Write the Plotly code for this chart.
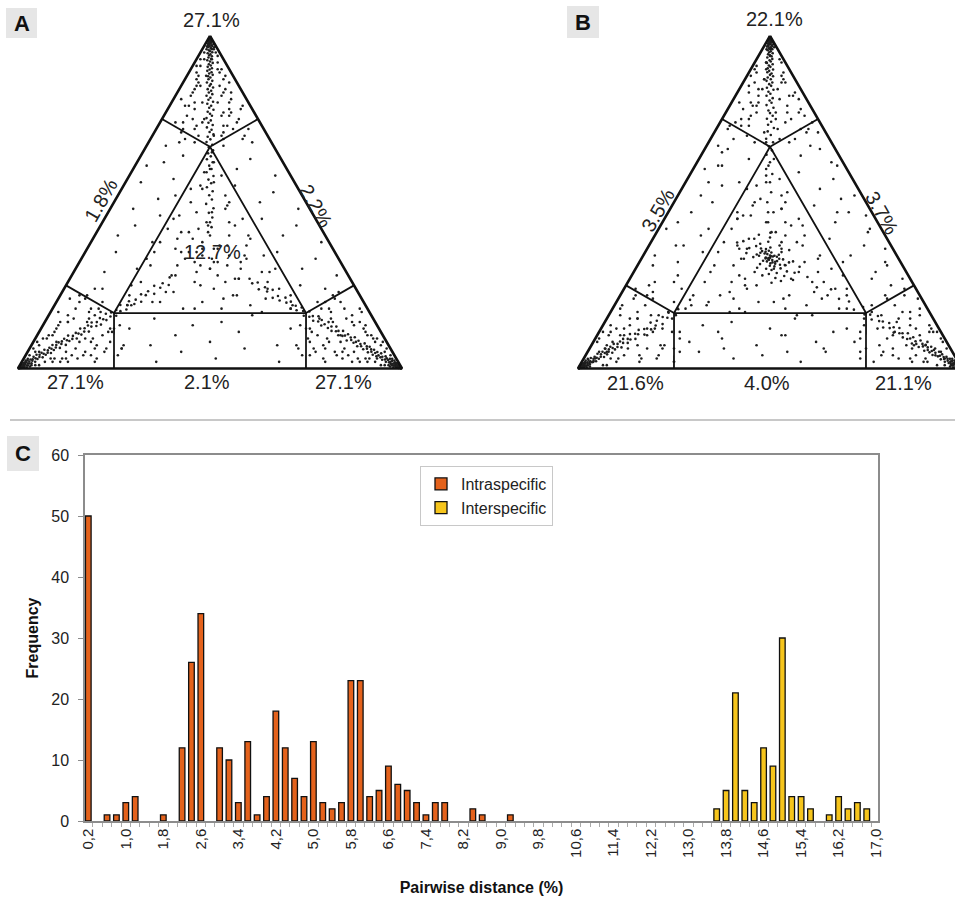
import numpy as np
import plotly.graph_objects as go

W, H = 955, 900
SQ3 = np.sqrt(3) / 2
FONT = "Liberation Sans, Arial, Helvetica, sans-serif"

# ---------------- histogram data (panel C) ----------------
bin_values = [0.2, 0.4, 0.6, 0.8, 1.0, 1.2, 1.4, 1.6, 1.8, 2.0,
              2.2, 2.4, 2.6, 2.8, 3.0, 3.2, 3.4, 3.6, 3.8, 4.0,
              4.2, 4.4, 4.6, 4.8, 5.0, 5.2, 5.4, 5.6, 5.8, 6.0,
              6.2, 6.4, 6.6, 6.8, 7.0, 7.2, 7.4, 7.6, 7.8, 8.0,
              8.2, 8.4, 8.6, 8.8, 9.0, 9.2, 9.4, 9.6, 9.8, 10.0,
              10.2, 10.4, 10.6, 10.8, 11.0, 11.2, 11.4, 11.6, 11.8, 12.0,
              12.2, 12.4, 12.6, 12.8, 13.0, 13.2, 13.4, 13.6, 13.8, 14.0,
              14.2, 14.4, 14.6, 14.8, 15.0, 15.2, 15.4, 15.6, 15.8, 16.0,
              16.2, 16.4, 16.6, 16.8, 17.0]
intra_counts = [50, 0, 1, 1, 3, 4, 0, 0, 1, 0,
                12, 26, 34, 0, 12, 10, 3, 13, 1, 4,
                18, 12, 7, 4, 13, 3, 2, 3, 23, 23,
                4, 5, 9, 6, 5, 3, 1, 3, 3, 0,
                0, 2, 1, 0, 0, 1, 0, 0, 0, 0,
                0, 0, 0, 0, 0, 0, 0, 0, 0, 0,
                0, 0, 0, 0, 0, 0, 0, 0, 0, 0,
                0, 0, 0, 0, 0, 0, 0, 0, 0, 0,
                0, 0, 0, 0, 0]
inter_counts = [0, 0, 0, 0, 0, 0, 0, 0, 0, 0,
                0, 0, 0, 0, 0, 0, 0, 0, 0, 0,
                0, 0, 0, 0, 0, 0, 0, 0, 0, 0,
                0, 0, 0, 0, 0, 0, 0, 0, 0, 0,
                0, 0, 0, 0, 0, 0, 0, 0, 0, 0,
                0, 0, 0, 0, 0, 0, 0, 0, 0, 0,
                0, 0, 0, 0, 0, 0, 0, 2, 5, 21,
                5, 3, 12, 9, 30, 4, 4, 2, 0, 1,
                4, 2, 3, 2, 0]
tick_values = [0.2, 1.0, 1.8, 2.6, 3.4, 4.2, 5.0, 5.8, 6.6, 7.4, 8.2,
               9.0, 9.8, 10.6, 11.4, 12.2, 13.0, 13.8, 14.6, 15.4, 16.2, 17.0]
tick_labels = ["0,2", "1,0", "1,8", "2,6", "3,4", "4,2", "5,0", "5,8", "6,6", "7,4", "8,2",
               "9,0", "9,8", "10,6", "11,4", "12,2", "13,0", "13,8", "14,6", "15,4", "16,2", "17,0"]
y_ticks = [0, 10, 20, 30, 40, 50, 60]

# ---------------- likelihood-mapping labels (panels A, B) ----------------
A_corner_pct = ["27.1%", "27.1%", "27.1%"]   # top, bottom-left, bottom-right
A_side_pct = ["1.8%", "2.2%", "2.1%"]        # left, right, bottom
A_center_pct = "12.7%"
B_corner_pct = ["22.1%", "21.6%", "21.1%"]
B_side_pct = ["3.5%", "3.7%", "4.0%"]

# ---------------- quartet points ----------------
# scattered points as (a, b) in percent; a = top corner, b = bottom-left, c = 100 - a - b
A_background = [
    (3, 5), (5, 13), (4, 22), (2, 31), (6, 38), (3, 47), (5, 55), (2, 63), (6, 70), (4, 79), (3, 86), (5, 92),
    (8, 3), (10, 11), (9, 20), (7, 29), (11, 37), (8, 46), (10, 54), (7, 62), (11, 70), (9, 78), (8, 86),
    (13, 6), (15, 14), (12, 23), (16, 31), (14, 40), (13, 48), (15, 57), (12, 65), (16, 72), (14, 80),
    (18, 2), (20, 10), (19, 19), (17, 28), (21, 36), (18, 45), (20, 53), (19, 61), (17, 70), (21, 76),
    (23, 5), (25, 14), (24, 23), (22, 32), (26, 41), (23, 50), (25, 58), (24, 66), (22, 73),
    (28, 3), (30, 11), (29, 20), (27, 29), (31, 37), (28, 46), (30, 54), (29, 63),
    (33, 6), (35, 15), (34, 24), (32, 33), (36, 41), (33, 50), (35, 57),
    (38, 2), (40, 11), (39, 20), (37, 29), (41, 37), (38, 46), (40, 54),
    (43, 6), (45, 14), (44, 23), (42, 32), (46, 40), (43, 48),
    (48, 3), (50, 12), (49, 21), (47, 30), (51, 38), (48, 46),
    (53, 7), (55, 16), (54, 25), (52, 33), (56, 40),
    (58, 4), (60, 13), (59, 22), (57, 31), (61, 36),
    (63, 8), (65, 17), (64, 25), (62, 31),
    (68, 5), (70, 14), (69, 22), (67, 28),
    (73, 9), (75, 17), (74, 22),
    (78, 6), (80, 12), (79, 17),
    (83, 5), (85, 10), (88, 7), (93, 3)]
A_inner = [
    (60, 20), (58, 18), (55, 25), (52, 20), (50, 30), (48, 22), (46, 35), (45, 19), (44, 28), (42, 40),
    (40, 20), (40, 25), (38, 44), (37, 22), (36, 30), (35, 47), (34, 19), (33, 40), (32, 26), (31, 50),
    (30, 35), (29, 22), (28, 45), (27, 30), (26, 55), (25, 40), (24, 20), (23, 48), (22, 33), (22, 60),
    (21, 25), (20, 42), (20, 55), (19, 30), (19, 62), (18, 20), (18, 48), (18, 38), (22, 18), (26, 22),
    (30, 18), (35, 38), (39, 35), (43, 22), (47, 26), (50, 20), (54, 28), (56, 21), (62, 18), (45, 37),
    (33, 33), (36, 31), (30, 35), (35, 36), (31, 30), (38, 33), (28, 34), (34, 28), (32, 38), (37, 27),
    (29, 39), (40, 30), (26, 33), (35, 40), (41, 35), (30, 27), (27, 29), (39, 39), (33, 24), (24, 37),
    (43, 29), (31, 43), (36, 34), (34, 35), (32, 32)]
A_kites = [
    (99, 0.5), (98.5, 0.7), (99.2, 0.4), (98, 1.1), (98.8, 0.5), (97.5, 1.4), (99.5, 0.2), (98.2, 0.8),
    (0.5, 99), (0.7, 98.5), (0.4, 99.2), (1.1, 98), (0.6, 98.8), (1.4, 97.5), (0.2, 99.5), (0.9, 98.3),
    (0.5, 0.5), (0.7, 0.8), (0.4, 0.4), (1.1, 0.9), (0.5, 0.7), (1.4, 1.1), (0.2, 0.3), (0.8, 0.9),
    (95, 1), (93, 5), (90, 2), (91, 7), (88, 9), (87, 3), (85, 11), (84, 4), (83, 13), (82, 6), (80, 14),
    (80, 5), (79, 16), (78, 3), (77, 8), (76, 18), (75, 5), (74, 20), (73, 10), (72, 4), (71, 22), (70, 12),
    (69, 7), (68, 24), (72, 18), (76, 7), (86, 10), (89, 3), (81, 17), (74, 15),
    (96, 1), (95, 4), (94, 1), (93, 6), (92, 2), (91, 8), (90, 3), (89, 9), (88, 2), (87, 10), (86, 2),
    (85, 5), (84, 12), (83, 3), (82, 14), (81, 4), (80, 8), (79, 2), (78, 15), (77, 6), (76, 9), (75, 14),
    (74, 6), (73, 17), (72, 8), (71, 11), (70, 18), (69, 12), (70, 6), (72, 21), (68, 20), (67, 13),
    (1, 95), (5, 93), (2, 90), (7, 91), (9, 88), (3, 87), (11, 85), (4, 84), (13, 83), (6, 82), (14, 80),
    (5, 80), (16, 79), (3, 78), (8, 77), (18, 76), (5, 75), (20, 74), (10, 73), (4, 72), (22, 71), (12, 70),
    (7, 69), (24, 68), (18, 72), (7, 76), (10, 86), (3, 89), (17, 81), (15, 74),
    (1, 96), (4, 95), (1, 94), (6, 93), (2, 92), (8, 91), (3, 90), (9, 89), (2, 88), (10, 87), (2, 86),
    (5, 85), (12, 84), (3, 83), (14, 82), (4, 81), (8, 80), (2, 79), (15, 78), (6, 77), (9, 76), (14, 75),
    (6, 74), (17, 73), (8, 72), (11, 71), (18, 70), (12, 69), (6, 70), (21, 72), (20, 68), (13, 67),
    (1, 4), (5, 2), (2, 8), (7, 2), (9, 3), (3, 10), (11, 4), (4, 12), (13, 3), (6, 12), (14, 6), (5, 15),
    (16, 5), (3, 19), (8, 15), (18, 6), (5, 20), (20, 6), (10, 17), (4, 24), (22, 7), (12, 18), (7, 24),
    (24, 8), (18, 10), (7, 17), (10, 4), (3, 8), (17, 2), (15, 11),
    (1, 3), (4, 1), (1, 5), (6, 1), (2, 6), (8, 1), (3, 7), (9, 2), (2, 10), (10, 3), (2, 12), (5, 10),
    (12, 4), (3, 14), (14, 4), (4, 15), (8, 12), (2, 19), (15, 7), (6, 17), (9, 15), (14, 11), (6, 20),
    (17, 10), (8, 20), (11, 18), (18, 12), (12, 19), (6, 24), (21, 7), (20, 12), (13, 20)]
# dense clumps right at the three corners (both panels)
corner_clumps = [
    (99.7, 0.1), (99.4, 0.3), (99.1, 0.6), (98.9, 0.2), (98.6, 1.0), (98.3, 0.4), (98.0, 0.7), (97.7, 1.6),
    (97.6, 0.3), (97.2, 1.9), (97.0, 0.9), (96.8, 2.4), (96.6, 0.6), (96.3, 1.5), (96.0, 2.9),
    (0.1, 99.7), (0.3, 99.4), (0.6, 99.1), (0.2, 98.9), (1.0, 98.6), (0.4, 98.3), (0.7, 98.0), (1.6, 97.7),
    (0.3, 97.6), (1.9, 97.2), (0.9, 97.0), (2.4, 96.8), (0.6, 96.6), (1.5, 96.3), (2.9, 96.0),
    (0.1, 0.2), (0.3, 0.3), (0.6, 0.3), (0.2, 0.9), (1.0, 0.4), (0.4, 1.3), (0.7, 1.3), (1.6, 0.7),
    (0.3, 2.1), (1.9, 0.9), (0.9, 2.1), (2.4, 0.8), (0.6, 2.8), (1.5, 2.2), (2.9, 1.1)]

# arm points as (t, d): t = share of the arm's own corner, d = offset across the arm (percent)
A_top_arm = [
    (99.6, 0.0), (99.3, 0.2), (99.0, -0.2), (98.7, 0.1), (98.4, -0.3), (98.1, 0.3), (97.8, -0.1), (97.5, 0.4),
    (97.2, -0.4), (96.9, 0.1), (96.6, 0.5), (96.3, -0.2), (96.0, -0.5), (95.7, 0.3), (95.4, 0.0), (95.1, -0.6),
    (94.8, 0.6), (94.5, -0.1), (94.2, 0.2), (93.9, -0.5), (93.5, 0.4), (93.1, -0.3), (92.7, 0.7), (92.3, 0.0),
    (91.9, -0.7), (91.5, 0.3), (91.1, -0.2), (90.7, 0.6), (90.3, -0.5), (89.9, 0.1), (89.5, 0.7), (89.1, -0.4),
    (88.7, 0.2), (88.3, -0.7), (87.9, 0.5), (87.5, -0.1), (87.0, 0.4), (86.5, -0.6), (86.0, 0.8), (85.5, -0.2),
    (85.0, 0.1), (84.5, -0.8), (84.0, 0.6), (83.5, -0.3), (83.0, 0.3), (82.5, -0.6), (82.0, 0.9), (81.4, -0.1),
    (80.8, 0.4), (80.2, -0.8), (79.6, 0.7), (79.0, -0.3), (78.4, 0.2), (77.8, -0.9), (77.2, 0.6), (76.6, 0.0),
    (76.0, -0.5), (75.3, 0.9), (74.6, -0.2), (73.9, 0.4), (73.2, -0.7), (72.5, 0.8), (71.8, -0.4), (71.1, 0.1),
    (70.4, -0.9), (69.7, 0.6), (68.9, -0.1), (68.1, 0.9), (67.3, -0.6), (66.5, 0.3), (65.6, -0.8), (64.7, 0.5),
    (63.8, -0.2), (62.9, 0.8), (62.0, -0.7), (61.0, 0.2), (60.0, -0.4), (59.0, 0.9), (57.9, -0.9), (56.8, 0.4),
    (55.7, -0.3), (54.5, 0.8), (53.3, -0.7), (52.1, 0.2), (50.8, -0.5), (49.5, 1.0), (48.2, -0.9), (46.8, 0.3),
    (45.4, -0.6), (44.0, 0.9), (42.5, -0.4), (41.0, 0.5)]
A_left_arm = [
    (99.6, 0.1), (99.3, -0.2), (99.0, 0.3), (98.7, -0.1), (98.4, 0.2), (98.1, -0.4), (97.8, 0.4), (97.5, 0.0),
    (97.2, -0.5), (96.9, 0.3), (96.6, -0.2), (96.3, 0.6), (96.0, 0.1), (95.7, -0.6), (95.4, 0.4), (95.1, -0.1),
    (94.8, 0.2), (94.5, -0.7), (94.2, 0.6), (93.9, 0.0), (93.5, -0.4), (93.1, 0.7), (92.7, -0.2), (92.3, 0.3),
    (91.9, -0.7), (91.5, 0.5), (91.1, 0.0), (90.7, -0.5), (90.3, 0.8), (89.9, -0.3), (89.5, 0.2), (89.1, -0.8),
    (88.7, 0.6), (88.3, 0.1), (87.9, -0.5), (87.5, 0.8), (87.0, -0.2), (86.5, 0.3), (86.0, -0.8), (85.5, 0.6),
    (85.0, -0.1), (84.5, 0.4), (84.0, -0.9), (83.5, 0.7), (83.0, 0.0), (82.5, -0.5), (82.0, 0.9), (81.4, -0.4),
    (80.8, 0.2), (80.2, -0.9), (79.6, 0.5), (79.0, 0.0), (78.4, -0.6), (77.8, 0.9), (77.2, -0.3), (76.6, 0.4),
    (76.0, -0.9), (75.3, 0.6), (74.6, -0.1), (73.9, 0.8), (73.2, -0.6), (72.5, 0.2), (71.8, -0.9), (71.1, 0.7),
    (70.4, 0.0), (69.7, -0.6), (68.9, 0.9), (68.1, -0.3), (67.3, 0.5), (66.5, -0.9), (65.6, 0.4), (64.7, -0.4),
    (63.8, 1.0), (62.9, -0.8), (62.0, 0.1), (61.0, 0.7), (60.0, -0.6), (59.0, 0.2), (57.9, -1.0), (56.8, 0.7),
    (55.7, -0.1), (54.5, 0.5), (53.3, -0.9), (52.1, 0.9), (50.8, -0.3), (49.5, 0.4), (48.2, -0.8), (46.8, 0.8)]
A_right_arm = [
    (99.6, -0.1), (99.3, 0.1), (99.0, -0.3), (98.7, 0.3), (98.4, 0.0), (98.1, -0.2), (97.8, 0.5), (97.5, -0.4),
    (97.2, 0.2), (96.9, -0.1), (96.6, -0.5), (96.3, 0.4), (96.0, 0.0), (95.7, -0.3), (95.4, 0.6), (95.1, 0.1),
    (94.8, -0.6), (94.5, 0.3), (94.2, -0.2), (93.9, 0.6), (93.5, -0.6), (93.1, 0.1), (92.7, -0.3), (92.3, 0.7),
    (91.9, -0.1), (91.5, -0.6), (91.1, 0.5), (90.7, 0.0), (90.3, -0.7), (89.9, 0.6), (89.5, -0.2), (89.1, 0.3),
    (88.7, -0.8), (88.3, 0.7), (87.9, -0.1), (87.5, 0.4), (87.0, -0.7), (86.5, 0.8), (86.0, -0.3), (85.5, 0.1),
    (85.0, -0.8), (84.5, 0.6), (84.0, 0.0), (83.5, -0.5), (83.0, 0.9), (82.5, -0.2), (82.0, 0.3), (81.4, -0.9),
    (80.8, 0.7), (80.2, 0.0), (79.6, -0.4), (79.0, 0.8), (78.4, -0.8), (77.8, 0.2), (77.2, -0.2), (76.6, 0.9),
    (76.0, -0.7), (75.3, 0.3), (74.6, -0.5), (73.9, 0.9), (73.2, -0.1), (72.5, -0.8), (71.8, 0.5), (71.1, -0.3),
    (70.4, 0.9), (69.7, -0.8), (68.9, 0.2), (68.1, -0.4), (67.3, 0.8), (66.5, -0.9), (65.6, 0.1), (64.7, 0.7),
    (63.8, -0.6), (62.9, 0.3), (62.0, -1.0), (61.0, 0.6), (60.0, -0.2), (59.0, 0.8), (57.9, -0.6), (56.8, 0.2),
    (55.7, -0.9), (54.5, 0.9), (53.3, -0.2), (52.1, 0.5), (50.8, -0.8), (49.5, 0.6), (48.2, -0.3), (46.8, 0.4)]

B_background = [
    (2, 8), (4, 16), (3, 25), (5, 33), (2, 41), (4, 50), (3, 58), (5, 66), (2, 74), (4, 82), (3, 90), (2, 95),
    (7, 6), (9, 15), (8, 24), (6, 33), (10, 42), (7, 50), (9, 58), (8, 67), (6, 75), (10, 83), (7, 89),
    (12, 2), (14, 10), (13, 19), (11, 28), (15, 36), (12, 44), (14, 53), (13, 61), (11, 70), (15, 77), (12, 84),
    (17, 5), (19, 14), (18, 23), (16, 31), (20, 39), (17, 48), (19, 57), (18, 65), (16, 73), (19, 79),
    (22, 9), (24, 18), (23, 27), (21, 36), (25, 44), (22, 52), (24, 61), (23, 69), (21, 75),
    (27, 2), (29, 8), (28, 17), (26, 26), (30, 34), (27, 43), (29, 51), (28, 60), (26, 67),
    (32, 4), (34, 12), (33, 21), (31, 44), (35, 50), (32, 58), (34, 63),
    (37, 7), (39, 15), (38, 24), (36, 40), (40, 48), (37, 56),
    (42, 3), (44, 11), (43, 20), (41, 28), (45, 36), (42, 45), (44, 52),
    (47, 6), (49, 14), (48, 23), (46, 32), (50, 40), (47, 47),
    (52, 2), (54, 10), (53, 19), (51, 27), (55, 35), (52, 42),
    (57, 5), (59, 13), (58, 22), (56, 30), (60, 37),
    (62, 3), (64, 10), (63, 24), (61, 32), (65, 30),
    (67, 6), (69, 13), (68, 20), (66, 28),
    (72, 4), (74, 9), (73, 21), (75, 18),
    (77, 7), (79, 14), (78, 18),
    (82, 4), (84, 11), (83, 14), (87, 3), (89, 9), (92, 5),
    (6, 1), (7, 9), (5, 18), (8, 34), (5, 43), (6, 59), (7, 74), (5, 90),
    (11, 2), (12, 24), (10, 41), (11, 58), (12, 74), (10, 87),
    (16, 3), (15, 18), (16, 35), (17, 52), (15, 68), (16, 81),
    (21, 1), (22, 24), (20, 65), (22, 71), (27, 10), (26, 62), (31, 4), (32, 15), (31, 65),
    (36, 2), (37, 54), (41, 4), (42, 56), (46, 2), (47, 9), (51, 6), (56, 38), (61, 2), (61, 33),
    (66, 4), (67, 30), (71, 2), (72, 25), (76, 3), (75, 20), (81, 2), (80, 15), (86, 3), (87, 8)]
B_inner = [
    (60, 21), (57, 19), (55, 26), (52, 21), (50, 29), (48, 23), (46, 34), (45, 20), (44, 29), (42, 39),
    (40, 21), (40, 26), (38, 43), (37, 23), (36, 29), (35, 46), (34, 20), (33, 41), (32, 25), (31, 49),
    (30, 36), (29, 23), (28, 44), (27, 31), (26, 54), (25, 41), (24, 21), (23, 49), (22, 34), (22, 59),
    (21, 26), (20, 43), (20, 56), (19, 31), (19, 61), (18, 21), (18, 49), (18, 37), (22, 19), (26, 23),
    (30, 19), (36, 38), (39, 36), (43, 23), (47, 27), (50, 21), (54, 29), (56, 22), (62, 19), (45, 36),
    (28, 38), (38, 28), (24, 44), (44, 24), (26, 47), (47, 35), (21, 49), (49, 30), (29, 28), (37, 40)]
B_kites = [
    (99, 0.5), (98.5, 0.7), (99.2, 0.4), (98, 1.1), (98.8, 0.5), (97.5, 1.4), (99.5, 0.2), (98.2, 0.8),
    (0.5, 99), (0.7, 98.5), (0.4, 99.2), (1.1, 98), (0.6, 98.8), (1.4, 97.5), (0.2, 99.5), (0.9, 98.3),
    (0.5, 0.5), (0.7, 0.8), (0.4, 0.4), (1.1, 0.9), (0.5, 0.7), (1.4, 1.1), (0.2, 0.3), (0.8, 0.9),
    (94, 3), (92, 1), (90, 6), (89, 2), (87, 8), (86, 4), (84, 10), (83, 2), (82, 12), (81, 7), (79, 15),
    (78, 3), (77, 10), (76, 17), (75, 7), (74, 2), (73, 19), (72, 12), (71, 5), (70, 21), (69, 9), (68, 17),
    (73, 24), (85, 13), (80, 18), (77, 4), (88, 11), (91, 8),
    (96, 2), (93, 1), (92, 5), (90, 9), (88, 3), (86, 11), (84, 6), (82, 3), (80, 13), (79, 6), (77, 15),
    (75, 11), (74, 22), (72, 6), (71, 16), (69, 25), (68, 11),
    (3, 94), (1, 92), (6, 90), (2, 89), (8, 87), (4, 86), (10, 84), (2, 83), (12, 82), (7, 81), (15, 79),
    (3, 78), (10, 77), (17, 76), (7, 75), (2, 74), (19, 73), (12, 72), (5, 71), (21, 70), (9, 69), (17, 68),
    (24, 73), (13, 85), (18, 80), (4, 77), (11, 88), (8, 91),
    (2, 96), (1, 93), (5, 92), (9, 90), (3, 88), (11, 86), (6, 84), (3, 82), (13, 80), (6, 79), (15, 77),
    (11, 75), (22, 74), (6, 72), (16, 71), (25, 69), (11, 68),
    (3, 3), (1, 6), (6, 4), (2, 9), (8, 5), (4, 10), (10, 6), (2, 12), (12, 6), (7, 11), (15, 6), (3, 15),
    (10, 13), (17, 7), (7, 18), (2, 22), (19, 8), (12, 16), (5, 24), (21, 9), (9, 22), (17, 15), (24, 3),
    (13, 2), (18, 2), (4, 19), (11, 1), (8, 1),
    (2, 2), (1, 4), (5, 3), (9, 1), (3, 8), (11, 3), (6, 10), (3, 12), (13, 7), (6, 15), (15, 9), (11, 12),
    (22, 4), (6, 22), (16, 13), (25, 6), (11, 21)]
B_center_star = [
    (33.3, 33.3), (33.8, 32.9), (32.7, 33.9), (34.4, 33.5), (32.1, 32.6), (33.1, 34.6), (34.9, 32.2),
    (31.6, 34.1), (33.6, 31.4), (35.3, 34.4), (31.2, 31.8), (32.4, 35.6), (35.9, 33.1), (30.7, 33.5),
    (34.2, 30.6), (33.9, 35.9), (36.4, 31.7), (30.1, 32.2), (32.8, 30.2), (36.8, 35.2), (29.6, 34.8),
    (35.0, 29.5), (31.4, 36.9), (37.5, 33.8), (29.2, 31.0), (33.5, 37.6), (38.1, 31.4), (28.7, 33.9),
    (31.9, 29.1), (36.2, 37.3), (28.4, 36.1), (37.0, 29.0), (30.3, 38.2), (39.0, 34.6), (27.8, 32.4),
    (34.7, 38.8), (39.4, 30.3), (27.2, 35.0), (32.2, 27.9), (38.3, 37.8), (26.6, 30.7), (35.6, 27.2),
    (29.0, 39.5), (40.2, 32.8), (26.3, 34.0), (33.0, 40.3), (40.8, 29.5), (25.8, 36.7), (30.6, 27.0),
    (37.9, 39.6), (33.2, 33.8), (34.6, 34.1), (32.3, 32.0), (33.7, 32.4), (32.9, 34.0), (34.0, 33.0),
    (32.6, 33.1), (33.4, 34.4), (35.1, 33.6), (31.9, 33.4), (33.9, 31.9), (34.8, 35.1), (31.5, 32.9),
    (32.2, 34.7), (35.4, 32.6), (30.9, 34.6), (33.0, 31.1), (34.3, 36.3), (36.1, 34.3), (31.1, 30.6)]
B_top_arm = [
    (99.6, 0.1), (99.3, -0.1), (99.0, 0.3), (98.7, -0.3), (98.4, 0.1), (98.1, -0.4), (97.8, 0.4), (97.5, 0.0),
    (97.2, -0.5), (96.9, 0.5), (96.6, -0.1), (96.3, 0.3), (96.0, -0.6), (95.7, 0.6), (95.4, -0.2), (95.1, 0.2),
    (94.8, -0.7), (94.5, 0.5), (94.2, 0.0), (93.9, -0.4), (93.5, 0.7), (93.1, -0.6), (92.7, 0.1), (92.3, -0.2),
    (91.9, 0.8), (91.5, -0.7), (91.1, 0.3), (90.7, -0.1), (90.3, 0.6), (89.9, -0.8), (89.5, 0.2), (89.1, 0.7),
    (88.7, -0.4), (88.3, 0.0), (87.9, -0.8), (87.5, 0.6), (87.0, -0.2), (86.5, 0.9), (86.0, -0.6), (85.5, 0.2),
    (85.0, -0.3), (84.4, 0.8), (83.8, -0.9), (83.2, 0.4), (82.6, -0.1), (82.0, 0.9), (81.3, -0.7), (80.6, 0.1),
    (79.9, -0.4), (79.2, 0.9), (78.4, -0.9), (77.6, 0.4), (76.8, 0.0), (76.0, -0.7), (75.1, 0.8), (74.2, -0.3),
    (73.3, 0.5), (72.3, -1.0), (71.3, 0.6), (70.2, -0.2), (69.1, 1.0), (68.0, -0.8), (66.8, 0.3), (65.6, -0.5),
    (64.3, 0.9), (63.0, -1.0), (61.0, 0.4), (58.5, -0.6), (56.0, 1.0), (53.0, -0.3), (50.0, 0.7), (47.0, -0.9),
    (44.0, 0.5), (41.0, -0.4)]
B_left_arm = [
    (99.6, -0.1), (99.3, 0.2), (99.0, -0.2), (98.7, 0.1), (98.4, -0.4), (98.1, 0.3), (97.8, 0.0), (97.5, -0.5),
    (97.2, 0.5), (96.9, -0.2), (96.6, 0.2), (96.3, -0.6), (96.0, 0.6), (95.7, 0.0), (95.4, -0.4), (95.1, 0.7),
    (94.8, -0.3), (94.5, 0.2), (94.2, -0.7), (93.9, 0.5), (93.5, 0.0), (93.1, -0.5), (92.7, 0.8), (92.3, -0.3),
    (91.9, 0.2), (91.5, -0.8), (91.1, 0.6), (90.7, 0.0), (90.3, -0.6), (89.9, 0.9), (89.5, -0.2), (89.1, 0.3),
    (88.7, -0.9), (88.3, 0.7), (87.9, 0.1), (87.5, -0.5), (87.0, 0.9), (86.5, -0.3), (86.0, 0.4), (85.5, -0.9),
    (85.0, 0.6), (84.4, -0.1), (83.8, 0.8), (83.2, -0.7), (82.6, 0.2), (82.0, -0.3), (81.3, 1.0), (80.6, -0.8),
    (79.9, 0.4), (79.2, -0.1), (78.4, 0.8), (77.6, -1.0), (76.8, 0.3), (76.0, 0.0), (75.1, -0.7), (74.2, 0.9),
    (73.3, -0.4), (72.3, 0.5), (71.3, -1.0), (70.2, 0.6), (69.1, -0.2), (68.0, 0.8), (66.5, -0.7), (65.0, 0.3),
    (63.0, -0.5), (60.5, 0.9)]
B_right_arm = [
    (99.6, 0.0), (99.3, -0.2), (99.0, 0.2), (98.7, -0.1), (98.4, 0.4), (98.1, -0.3), (97.8, 0.1), (97.5, 0.5),
    (97.2, -0.4), (96.9, 0.0), (96.6, -0.6), (96.3, 0.4), (96.0, 0.1), (95.7, -0.5), (95.4, 0.6), (95.1, -0.1),
    (94.8, 0.3), (94.5, -0.7), (94.2, 0.6), (93.9, -0.2), (93.5, 0.2), (93.1, -0.7), (92.7, 0.6), (92.3, 0.0),
    (91.9, -0.4), (91.5, 0.8), (91.1, -0.5), (90.7, 0.1), (90.3, -0.8), (89.9, 0.5), (89.5, 0.0), (89.1, -0.6),
    (88.7, 0.9), (88.3, -0.3), (87.9, 0.3), (87.5, -0.9), (87.0, 0.6), (86.5, -0.1), (86.0, 0.4), (85.5, -0.8),
    (85.0, 0.9), (84.4, -0.4), (83.8, 0.1), (83.2, -0.9), (82.6, 0.7), (82.0, 0.0), (81.3, -0.5), (80.6, 0.9),
    (79.9, -0.7), (79.2, 0.2), (78.4, -0.2), (77.6, 1.0), (76.8, -0.8), (76.0, 0.4), (75.1, -0.3), (74.2, 0.8),
    (73.3, -1.0), (72.3, 0.3), (71.3, -0.1), (70.2, 0.9), (69.1, -0.7), (68.0, 0.2), (66.5, -0.5), (65.0, 1.0),
    (63.0, -0.8), (60.5, 0.4), (57.5, -0.3), (54.0, 0.8), (50.0, -0.6), (46.0, 0.5), (42.0, -0.2), (38.5, 0.3)]

# region boundaries of a likelihood-mapping triangle (a, b, c in percent)
outer_tri = [(100, 0, 0), (0, 100, 0), (0, 0, 100), (100, 0, 0)]
inner_tri = [(66.67, 16.67, 16.67), (16.67, 66.67, 16.67), (16.67, 16.67, 66.67), (66.67, 16.67, 16.67)]
spokes = [
    [(66.67, 16.67, 16.67), (75, 25, 0)], [(66.67, 16.67, 16.67), (75, 0, 25)],
    [(16.67, 66.67, 16.67), (25, 75, 0)], [(16.67, 66.67, 16.67), (0, 75, 25)],
    [(16.67, 16.67, 66.67), (25, 0, 75)], [(16.67, 16.67, 66.67), (0, 25, 75)]]

ORANGE = "#E4621C"
YELLOW = "#F6C51C"
DOT = "#1e1e1e"


def arm_to_ab(td, corner):
    out = []
    for t, d in td:
        half = (100.0 - t) / 2
        if corner == "a":
            out.append((t, half + d))
        elif corner == "b":
            out.append((half + d, t))
        else:
            out.append((half + d, half - d))
    return out


def ab_to_xy(pts):
    a = np.array([p[0] for p in pts], dtype=float)
    b = np.array([p[1] for p in pts], dtype=float)
    c = 100.0 - a - b
    return (c + a / 2) / 100.0, a / 100.0 * SQ3


def abc_to_xy(pts):
    a = np.array([p[0] for p in pts], dtype=float)
    c = np.array([p[2] for p in pts], dtype=float)
    return (c + a / 2) / 100.0, a / 100.0 * SQ3


fig = go.Figure()

panels = (
    ("", A_background + A_inner + A_kites + corner_clumps + arm_to_ab(A_top_arm, "a")
     + arm_to_ab(A_left_arm, "b") + arm_to_ab(A_right_arm, "c")),
    ("2", B_background + B_inner + B_kites + corner_clumps + B_center_star + arm_to_ab(B_top_arm, "a")
     + arm_to_ab(B_left_arm, "b") + arm_to_ab(B_right_arm, "c")),
)
for ax, pts in panels:
    x, y = ab_to_xy(pts)
    fig.add_trace(go.Scatter(x=x, y=y, mode="markers", xaxis="x" + ax, yaxis="y" + ax,
                             marker=dict(size=2.6, color=DOT), showlegend=False, hoverinfo="skip"))
    for seg in spokes:
        sx, sy = abc_to_xy(seg)
        fig.add_trace(go.Scatter(x=sx, y=sy, mode="lines", xaxis="x" + ax, yaxis="y" + ax,
                                 line=dict(color="#111", width=1.8), showlegend=False, hoverinfo="skip"))
    ix, iy = abc_to_xy(inner_tri)
    fig.add_trace(go.Scatter(x=ix, y=iy, mode="lines", xaxis="x" + ax, yaxis="y" + ax,
                             line=dict(color="#111", width=1.8), showlegend=False, hoverinfo="skip"))
    ox, oy = abc_to_xy(outer_tri)
    fig.add_trace(go.Scatter(x=ox, y=oy, mode="lines", xaxis="x" + ax, yaxis="y" + ax,
                             line=dict(color="#111", width=2.6), showlegend=False, hoverinfo="skip"))

fig.add_trace(go.Bar(x=bin_values, y=[v if v else None for v in intra_counts], width=0.12,
                     name="Intraspecific", marker=dict(color=ORANGE, line=dict(color="#111", width=1.3)),
                     xaxis="x3", yaxis="y3"))
fig.add_trace(go.Bar(x=bin_values, y=[v if v else None for v in inter_counts], width=0.12,
                     name="Interspecific", marker=dict(color=YELLOW, line=dict(color="#111", width=1.3)),
                     xaxis="x3", yaxis="y3"))


def px(x):
    return x / W


def py(y):
    return 1 - y / H


hidden = dict(visible=False, showgrid=False, zeroline=False, fixedrange=True, automargin=False)
sideA = 384.0
fig.update_layout(
    xaxis=dict(domain=[px(8), px(412)], range=[(8 - 18) / sideA, (412 - 18) / sideA], anchor="y", **hidden),
    yaxis=dict(domain=[py(380), py(26)], range=[(368.5 - 380) / sideA, (368.5 - 26) / sideA], anchor="x",
               **hidden),
    xaxis2=dict(domain=[px(568), px(955)], range=[(568 - 578) / sideA, (955 - 578) / sideA], anchor="y2",
                **hidden),
    yaxis2=dict(domain=[py(380), py(26)], range=[(368.5 - 380) / sideA, (368.5 - 26) / sideA], anchor="x2",
                **hidden),
    xaxis3=dict(domain=[px(85), px(878)], range=[0.13, 17.04], anchor="y3", automargin=False,
                tickmode="array", tickvals=tick_values, ticktext=tick_labels, tickangle=-90, ticks="",
                minor=dict(ticks="outside", dtick=0.2, tick0=0.1, ticklen=4, tickcolor="#aaa", tickwidth=1),
                showline=True, linecolor="#8c8c8c", linewidth=1.5, mirror=True, showgrid=False,
                zeroline=False, tickfont=dict(size=15, color="#222", family=FONT),
                title=dict(text="<b>Pairwise distance (%)</b>", font=dict(size=16, color="#111", family=FONT),
                           standoff=25)),
    yaxis3=dict(domain=[py(821), py(455)], range=[0, 60], anchor="x3", automargin=False,
                tickvals=y_ticks, ticks="outside",
                ticklen=5, tickcolor="#8c8c8c", showline=True, linecolor="#8c8c8c", linewidth=1.5,
                mirror=True, showgrid=False, zeroline=False, ticklabelstandoff=6,
                tickfont=dict(size=16, color="#222", family=FONT),
                title=dict(text="<b>Frequency</b>", font=dict(size=16, color="#111", family=FONT),
                           standoff=9)),
    barmode="overlay",
    width=W, height=H, margin=dict(l=0, r=0, t=0, b=0, pad=0),
    paper_bgcolor="white", plot_bgcolor="white",
    font=dict(family=FONT, color="#222"),
    showlegend=True,
    legend=dict(x=px(420), y=py(466), xanchor="left", yanchor="top", bgcolor="white",
                bordercolor="#c8c8c8", borderwidth=1, font=dict(size=16, color="#222", family=FONT),
                tracegroupgap=0),
)

ann = []


def label(text, x, y, size=20, angle=0):
    ann.append(dict(text=text, x=px(x), y=py(y), xref="paper", yref="paper",
                    showarrow=False, xanchor="center", yanchor="middle", textangle=angle,
                    font=dict(size=size, color="#222", family=FONT)))


label(A_corner_pct[0], 211, 20)
label(A_corner_pct[1], 75, 382)
label(A_corner_pct[2], 343, 382)
label(A_side_pct[0], 101, 200, angle=-60)
label(A_side_pct[1], 316, 206, angle=60)
label(A_side_pct[2], 207, 382)
label(A_center_pct, 212, 252)
label(B_corner_pct[0], 774, 19)
label(B_corner_pct[1], 635, 383)
label(B_corner_pct[2], 903, 383)
label(B_side_pct[0], 658, 210, angle=-60)
label(B_side_pct[1], 882, 213, angle=60)
label(B_side_pct[2], 767, 383)

shapes = []
for letter, (x0, y0, x1, y1) in (("A", (6, 8, 37, 38)), ("B", (567, 6, 599, 38)), ("C", (7, 436, 39, 471))):
    shapes.append(dict(type="rect", xref="paper", yref="paper", x0=px(x0), x1=px(x1), y0=py(y1), y1=py(y0),
                       fillcolor="#e6e6e6", line=dict(width=0), layer="below"))
    ann.append(dict(text=f"<b>{letter}</b>", x=px((x0 + x1) / 2), y=py((y0 + y1) / 2), xref="paper",
                    yref="paper", showarrow=False, xanchor="center", yanchor="middle",
                    font=dict(size=22, color="#111", family=FONT)))
shapes.append(dict(type="line", xref="paper", yref="paper", x0=px(10), x1=1, y0=py(420), y1=py(420),
                   line=dict(color="#c8c8c8", width=2)))

fig.update_layout(annotations=ann, shapes=shapes)
# the page's default body margin would push the 955x900 figure off by 8 px
fig.write_html("out.html", config={"displayModeBar": False},
               post_script="document.body.style.margin='0px';")
